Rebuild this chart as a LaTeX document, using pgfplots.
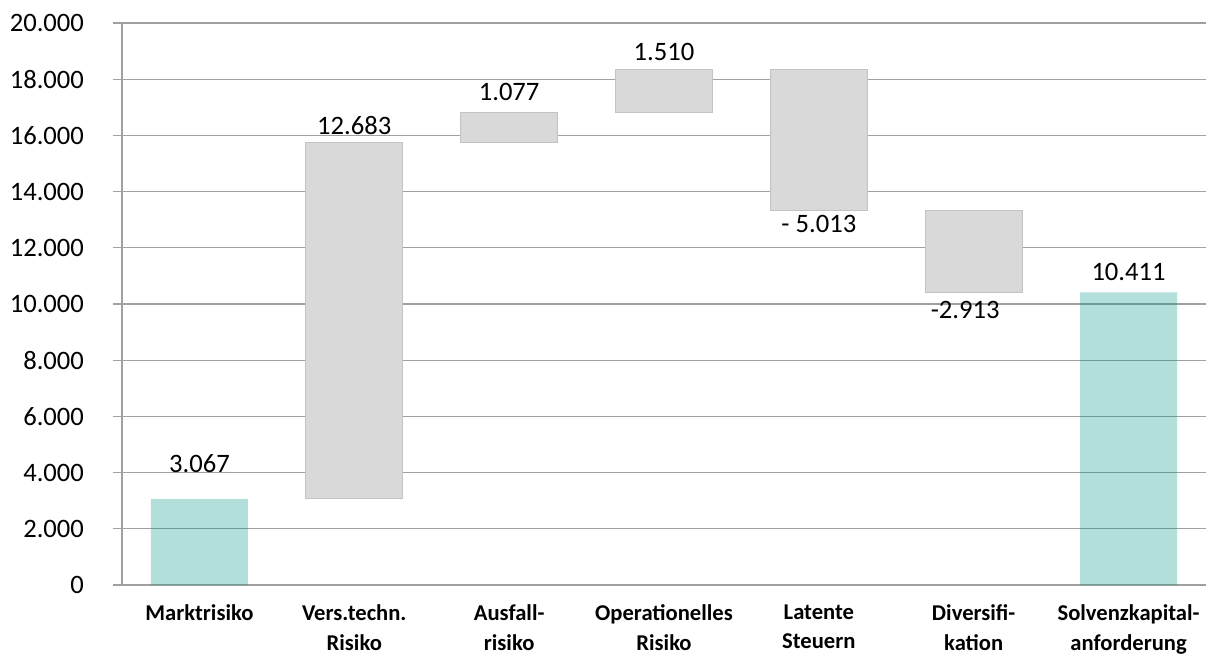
\documentclass[border=0pt]{standalone}
\usepackage{pgfplots}
\usepackage{pgfplotstable}
\pgfplotsset{compat=1.18}
\usepackage{fontspec}
\setmainfont{Carlito}
\definecolor{gridgray}{RGB}{160,160,160}
\definecolor{barteal}{RGB}{0,150,130}
\definecolor{bargray}{RGB}{217,217,217}
\definecolor{bordergray}{RGB}{195,195,195}

\pgfplotstableread{
x base grayv tealv
0 0 0 3067
1 3067 12683 0
2 15750 1077 0
3 16827 1510 0
4 13324 5013 0
5 10411 2913 0
6 0 0 10411
}\wfdata

\pgfplotstableread{
x y label
0 4306 3.067
1 16335 12.683
2 17544 1.077
3 18968 1.510
4 12847 {- 5.013}
4.945 9786 -2.913
6 11139 10.411
}\labeldata

\begin{document}
\begin{tikzpicture}
\path[use as bounding box] (0,0) rectangle (603pt,327.5pt);
\begin{axis}[
  at={(61pt,35pt)}, anchor=south west,
  scale only axis, width=542pt, height=281pt,
  ybar stacked, bar width=48.5pt,
  xmin=-0.5, xmax=6.5, ymin=0, ymax=20000,
  axis lines=left, axis line style={draw=gridgray, line width=0.6pt, -},
  ytick={0,2000,...,20000},
  ymajorgrids, grid style={draw=gridgray, line width=0.6pt},
  tick align=outside,
  ytick style={draw=gridgray, line width=0.6pt},
  major tick length=4.5pt,
  /pgf/number format/assume math mode=true,
  /pgf/number format/fixed,
  /pgf/number format/1000 sep={.},
  scaled y ticks=false,
  yticklabel={\fontsize{13.3}{15}\selectfont\pgfmathprintnumber{\tick}},
  yticklabel style={text=black, xshift=-11pt},
  xtick={0,1,2,3,4,5,6},
  xtick style={draw=none},
  xticklabels={Marktrisiko, Vers.techn.\\Risiko, Ausfall-\\risiko, Operationelles\\Risiko, Latente\\Steuern, Diversifi-\\kation, Solvenzkapital-\\anforderung},
  xticklabel style={font=\fontsize{11.3}{14.6}\selectfont\bfseries, align=center, anchor=north, yshift=-2pt, text=black},
  extra x ticks={-0.5,0.5,1.5,2.5,3.5,4.5,5.5,6.5},
  extra x tick labels={},
  extra x tick style={tick style={draw=gridgray, line width=0.6pt}, major tick length=6pt, grid=none},
  clip=false,
]
\addplot[draw=none, fill=none] table[x=x, y=base] {\wfdata};
\addplot[fill=bargray, draw=bordergray, line width=0.5pt] table[x=x, y=grayv] {\wfdata};
\addplot[fill=barteal, fill opacity=0.3, draw=none] table[x=x, y=tealv] {\wfdata};
\end{axis}
\begin{axis}[
  at={(61pt,35pt)}, anchor=south west,
  scale only axis, width=542pt, height=281pt,
  xmin=-0.5, xmax=6.5, ymin=0, ymax=20000,
  hide axis, clip=false,
]
\addplot[draw=none, mark=none, nodes near coords, point meta=explicit symbolic,
  nodes near coords style={anchor=center, font=\fontsize{13.3}{15}\selectfont, text=black}]
  table[x=x, y=y, meta=label] {\labeldata};
\end{axis}
\end{tikzpicture}
\end{document}
